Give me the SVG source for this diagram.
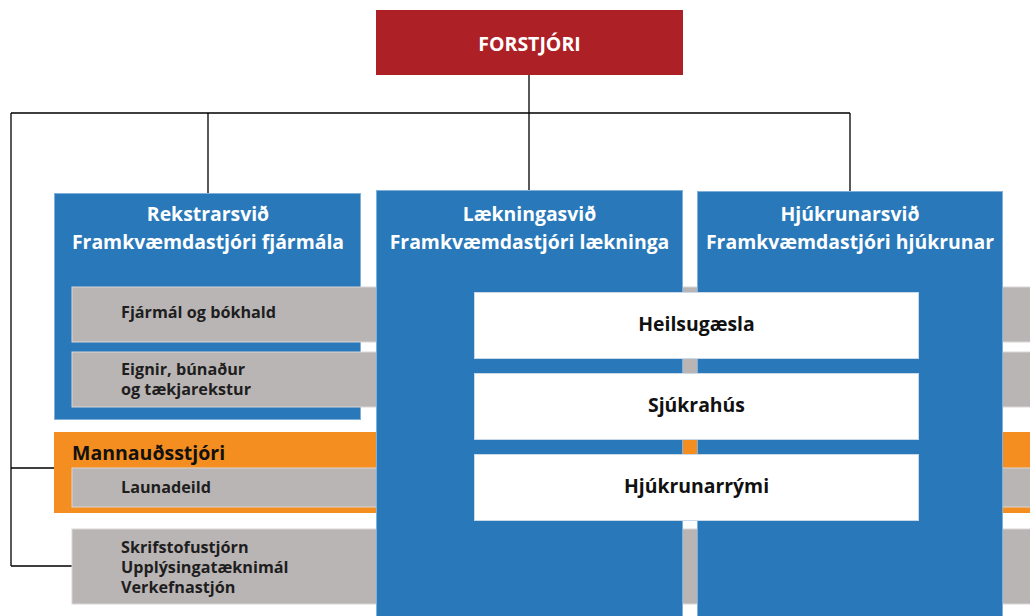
<svg xmlns="http://www.w3.org/2000/svg" width="1030" height="616" viewBox="0 0 1030 616">
<style>
.blue{fill:#2878BA;stroke:#7FB0DA;stroke-width:1}
.gray{fill:#BAB5B5;stroke:#D9D6D6;stroke-width:1}
.white{fill:#FFFFFF;stroke:#C9D9E8;stroke-width:1}
.orange{fill:#F48E20}
.red{fill:#AD2126}
text{font-family:"Open Sans","Liberation Sans",sans-serif;font-weight:bold}
.hw{fill:#FFFFFF;font-size:19.4px;text-anchor:middle}
.gt{fill:#1E1E1E;font-size:16.2px}
.wt{fill:#111111;font-size:19.4px;text-anchor:middle}
.conn{stroke:#000;stroke-width:1.3;fill:none}
</style>
<g id="connectors">
<path class="conn" d="M529,75 V190 M11,113 H850 M208,113 V193 M850,113 V192 M11,113 V566 M11,468 H54 M11,566 H72"/>
</g>
<g id="forstjori">
<rect class="red" x="376" y="10" width="307" height="65"/>
<text x="529.5" y="51" fill="#FFFFFF" font-size="19.5" text-anchor="middle">FORSTJÓRI</text>
</g>
<g id="rekstrarsvid">
<rect class="blue" x="54.5" y="193.5" width="306" height="226"/>
<text class="hw" x="208" y="221">Rekstrarsvið</text>
<text class="hw" x="208" y="249">Framkvæmdastjóri fjármála</text>
</g>
<g id="fjarmal">
<rect class="gray" x="72" y="287" width="960" height="55"/>
<text class="gt" x="121" y="318">Fjármál og bókhald</text>
</g>
<g id="eignir">
<rect class="gray" x="72" y="352" width="960" height="55"/>
<text class="gt" x="121" y="375">Eignir, búnaður</text>
<text class="gt" x="121" y="395">og tækjarekstur</text>
</g>
<g id="mannaudsstjori">
<rect class="orange" x="54" y="432" width="980" height="81"/>
<text x="72" y="460" fill="#111111" font-size="19.5">Mannauðsstjóri</text>
</g>
<g id="launadeild">
<rect class="gray" x="72" y="468" width="960" height="39"/>
<text class="gt" x="121" y="493">Launadeild</text>
</g>
<g id="skrifstofa">
<rect class="gray" x="72" y="529" width="960" height="75"/>
<text class="gt" x="121" y="553">Skrifstofustjórn</text>
<text class="gt" x="121" y="573">Upplýsingatæknimál</text>
<text class="gt" x="121" y="593">Verkefnastjón</text>
</g>
<g id="laekningasvid">
<rect class="blue" x="376.5" y="190.5" width="306" height="430"/>
<text class="hw" x="529.5" y="221">Lækningasvið</text>
<text class="hw" x="529.5" y="249">Framkvæmdastjóri lækninga</text>
</g>
<g id="hjukrunarsvid">
<rect class="blue" x="697.5" y="191.5" width="305" height="430"/>
<text class="hw" x="850" y="221">Hjúkrunarsvið</text>
<text class="hw" x="850" y="249">Framkvæmdastjóri hjúkrunar</text>
</g>
<g id="heilsugaesla">
<rect class="white" x="474.5" y="292.5" width="444" height="66"/>
<text class="wt" x="696.5" y="331">Heilsugæsla</text>
</g>
<g id="sjukrahus">
<rect class="white" x="474.5" y="373.5" width="444" height="66"/>
<text class="wt" x="696.5" y="412">Sjúkrahús</text>
</g>
<g id="hjukrunarrymi">
<rect class="white" x="474.5" y="454.5" width="444" height="66"/>
<text class="wt" x="696.5" y="493">Hjúkrunarrými</text>
</g>
</svg>
